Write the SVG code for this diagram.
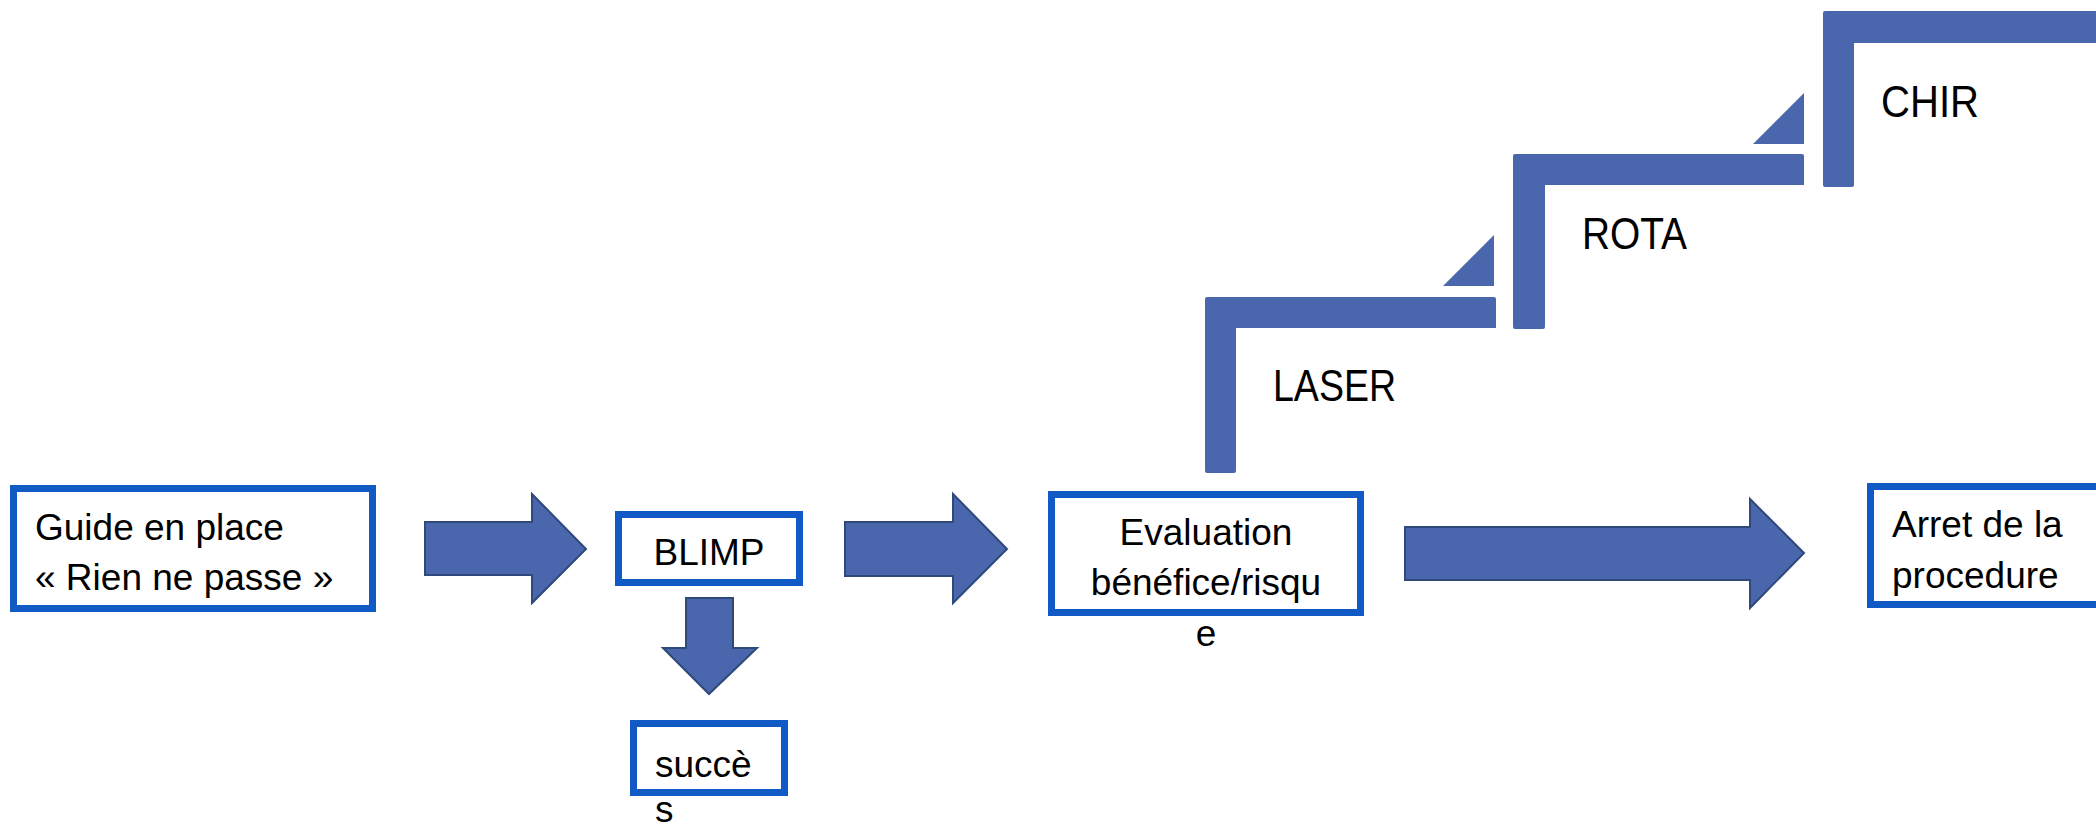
<svg xmlns="http://www.w3.org/2000/svg" width="2096" height="827" viewBox="0 0 2096 827">
<style>
.box{fill:#ffffff;stroke:#1159C4;stroke-width:7}
.arrow{fill:#4A66AC;stroke:#2F4A7A;stroke-width:2;stroke-linejoin:miter}
.step{fill:#4A66AC}
.t{font-family:"Liberation Sans",Arial,sans-serif;font-size:37px;fill:#000000}
.lbl{font-family:"Liberation Sans",Arial,sans-serif;font-size:44px;fill:#000000}
</style>
<rect x="0" y="0" width="2096" height="827" fill="#ffffff"/>
<g id="connectors">
<polygon class="arrow" points="425,522 532,522 532,494 586,549 532,603 532,575 425,575"/>
<polygon class="arrow" points="845,522 953,522 953,494 1007,549 953,603 953,576 845,576"/>
<polygon class="arrow" points="686,598 733,598 733,648 757,648 709,694 663,648 686,648"/>
<polygon class="arrow" points="1405,527 1750,527 1750,499 1804,553 1750,608 1750,580 1405,580"/>
<polygon class="step" points="1443,286 1494,286 1494,235"/>
<polygon class="step" points="1753,144 1804,144 1804,93"/>
</g>
<g id="node-guide">
<rect class="box" x="13.5" y="488.5" width="359" height="120"/>
<text class="t" x="35" y="540">Guide en place</text>
<text class="t" x="35" y="590">« Rien ne passe »</text>
</g>
<g id="node-blimp">
<rect class="box" x="618.5" y="514.5" width="181" height="68"/>
<text class="t" x="709" y="565" text-anchor="middle">BLIMP</text>
</g>
<g id="node-succes">
<rect class="box" x="633.5" y="723.5" width="151" height="69"/>
<text class="t" x="655" y="777">succè</text>
<text class="t" x="655" y="822">s</text>
</g>
<g id="node-evaluation">
<rect class="box" x="1051.5" y="494.5" width="309" height="118"/>
<text class="t" x="1206" y="545" text-anchor="middle">Evaluation</text>
<text class="t" x="1206" y="595" text-anchor="middle">bénéfice/risqu</text>
<text class="t" x="1206" y="646" text-anchor="middle">e</text>
</g>
<g id="node-arret">
<rect class="box" x="1870.5" y="486.5" width="260" height="118"/>
<text class="t" x="1892" y="537">Arret de la</text>
<text class="t" x="1892" y="588">procedure</text>
</g>
<g id="node-laser">
<path class="step" d="M1207,297 H1494 Q1496,297 1496,299 V328 H1236 V471 Q1236,473 1234,473 H1207 Q1205,473 1205,471 V299 Q1205,297 1207,297 Z"/>
<text class="lbl" x="1273" y="401" textLength="123" lengthAdjust="spacingAndGlyphs">LASER</text>
</g>
<g id="node-rota">
<path class="step" d="M1515,154 H1802 Q1804,154 1804,156 V185 H1545 V327 Q1545,329 1543,329 H1515 Q1513,329 1513,327 V156 Q1513,154 1515,154 Z"/>
<text class="lbl" x="1582" y="249" textLength="105" lengthAdjust="spacingAndGlyphs">ROTA</text>
</g>
<g id="node-chir">
<path class="step" d="M1825,11 H2100 V43 H1854 V185 Q1854,187 1852,187 H1825 Q1823,187 1823,185 V13 Q1823,11 1825,11 Z"/>
<text class="lbl" x="1881" y="117" textLength="98" lengthAdjust="spacingAndGlyphs">CHIR</text>
</g>
</svg>
